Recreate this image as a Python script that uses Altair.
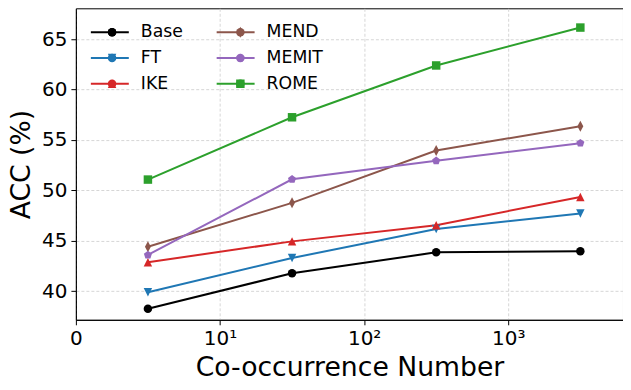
import altair as alt
import pandas as pd

# ---- data ----
x_vals = [3.16, 31.6, 316, 3162]
series_names = ["Base", "FT", "IKE", "MEND", "MEMIT", "ROME"]
base = [38.25, 41.78, 43.85, 43.95]
ft = [39.90, 43.29, 46.16, 47.71]
ike = [42.87, 44.94, 46.55, 49.35]
mend = [44.41, 48.76, 53.96, 56.36]
memit = [43.59, 51.10, 52.94, 54.68]
rome = [51.07, 57.25, 62.39, 66.15]
x_ticks = [1, 10, 100, 1000]
y_ticks = [40, 45, 50, 55, 60, 65]

values = {"Base": base, "FT": ft, "IKE": ike, "MEND": mend, "MEMIT": memit, "ROME": rome}
rows = []
for s in series_names:
    for x, v in zip(x_vals, values[s]):
        rows.append({"x": x, "acc": v, "series": s})
df = pd.DataFrame(rows)

legend_order = series_names
color_map = {"Base": "#000000", "FT": "#1f77b4", "IKE": "#d62728",
             "MEND": "#8c564b", "MEMIT": "#9467bd", "ROME": "#2ca02c"}
shape_map = {
    "Base": "circle",
    "FT": "M-1,-1L1,-1L0,1Z",
    "IKE": "M-1,1L1,1L0,-1Z",
    "MEND": "M0,-1.3L0.7,0L0,1.3L-0.7,0Z",
    "MEMIT": "M0,-1L0.951,-0.309L0.588,0.809L-0.588,0.809L-0.951,-0.309Z",
    "ROME": "square",
}
colors = [color_map[s] for s in legend_order]
shapes = [shape_map[s] for s in legend_order]

FONT = "DejaVu Sans"

x_enc = alt.X("x:Q", scale=alt.Scale(type="log", domain=[1, 6250], nice=False),
              axis=alt.Axis(values=x_ticks, title="Co-occurrence Number", labelFlush=False,
                            labelExpr="datum.value == 1 ? '0' : datum.value == 10 ? '10¹' : datum.value == 100 ? '10²' : '10³'"))
y_enc = alt.Y("acc:Q", scale=alt.Scale(domain=[37.16, 68.06], nice=False, zero=False),
              axis=alt.Axis(values=y_ticks, title="ACC (%)"))

line_sym = 1444  # 38px stroke
pt_sym = 72

common = dict(columns=2, clipHeight=20, rowPadding=5.8,
              labelFontSize=17.3, labelFont=FONT, title=None, padding=0)

pt_legend = alt.Legend(orient="none", legendX=14, legendY=14, columnPadding=12.5,
                       symbolSize=pt_sym, symbolStrokeWidth=0,
                       symbolOffset=13.6, labelOffset=42.3, labelOpacity=0, **common)

lines = alt.Chart(df).mark_line(strokeWidth=2).encode(
    x=x_enc, y=y_enc,
    stroke=alt.Stroke("series:N", scale=alt.Scale(domain=legend_order, range=colors),
                      legend=alt.Legend(orient="top-left", offset=14, columnPadding=32,
                                        symbolType="stroke", symbolSize=line_sym,
                                        symbolStrokeWidth=2, labelOffset=11,
                                        labelColor="black", **common)),
    detail="series:N",
)

points = alt.Chart(df).mark_point(filled=True, size=pt_sym, opacity=1, strokeWidth=0).encode(
    x=x_enc, y=y_enc,
    fill=alt.Fill("series:N", scale=alt.Scale(domain=legend_order, range=colors), legend=pt_legend),
    shape=alt.Shape("series:N", scale=alt.Scale(domain=legend_order, range=shapes), legend=pt_legend),
)

chart = alt.layer(lines, points).properties(
    width=548, height=312, padding={"left": 0, "top": 0, "right": 0, "bottom": 0}
).configure_view(
    stroke="black", strokeWidth=1
).configure_axis(
    labelFont=FONT, titleFont=FONT, labelFontSize=20, titleFontSize=26.7,
    titleFontWeight="normal", labelColor="black", titleColor="black",
    tickColor="black", tickSize=5, tickWidth=1, domainColor="black", domainWidth=1,
    gridColor="#cccccc", gridDash=[3, 2], gridWidth=0.8, labelPadding=4,
    titlePadding=6
)

chart.save("out.html", embed_options={"renderer": "svg", "actions": False})
